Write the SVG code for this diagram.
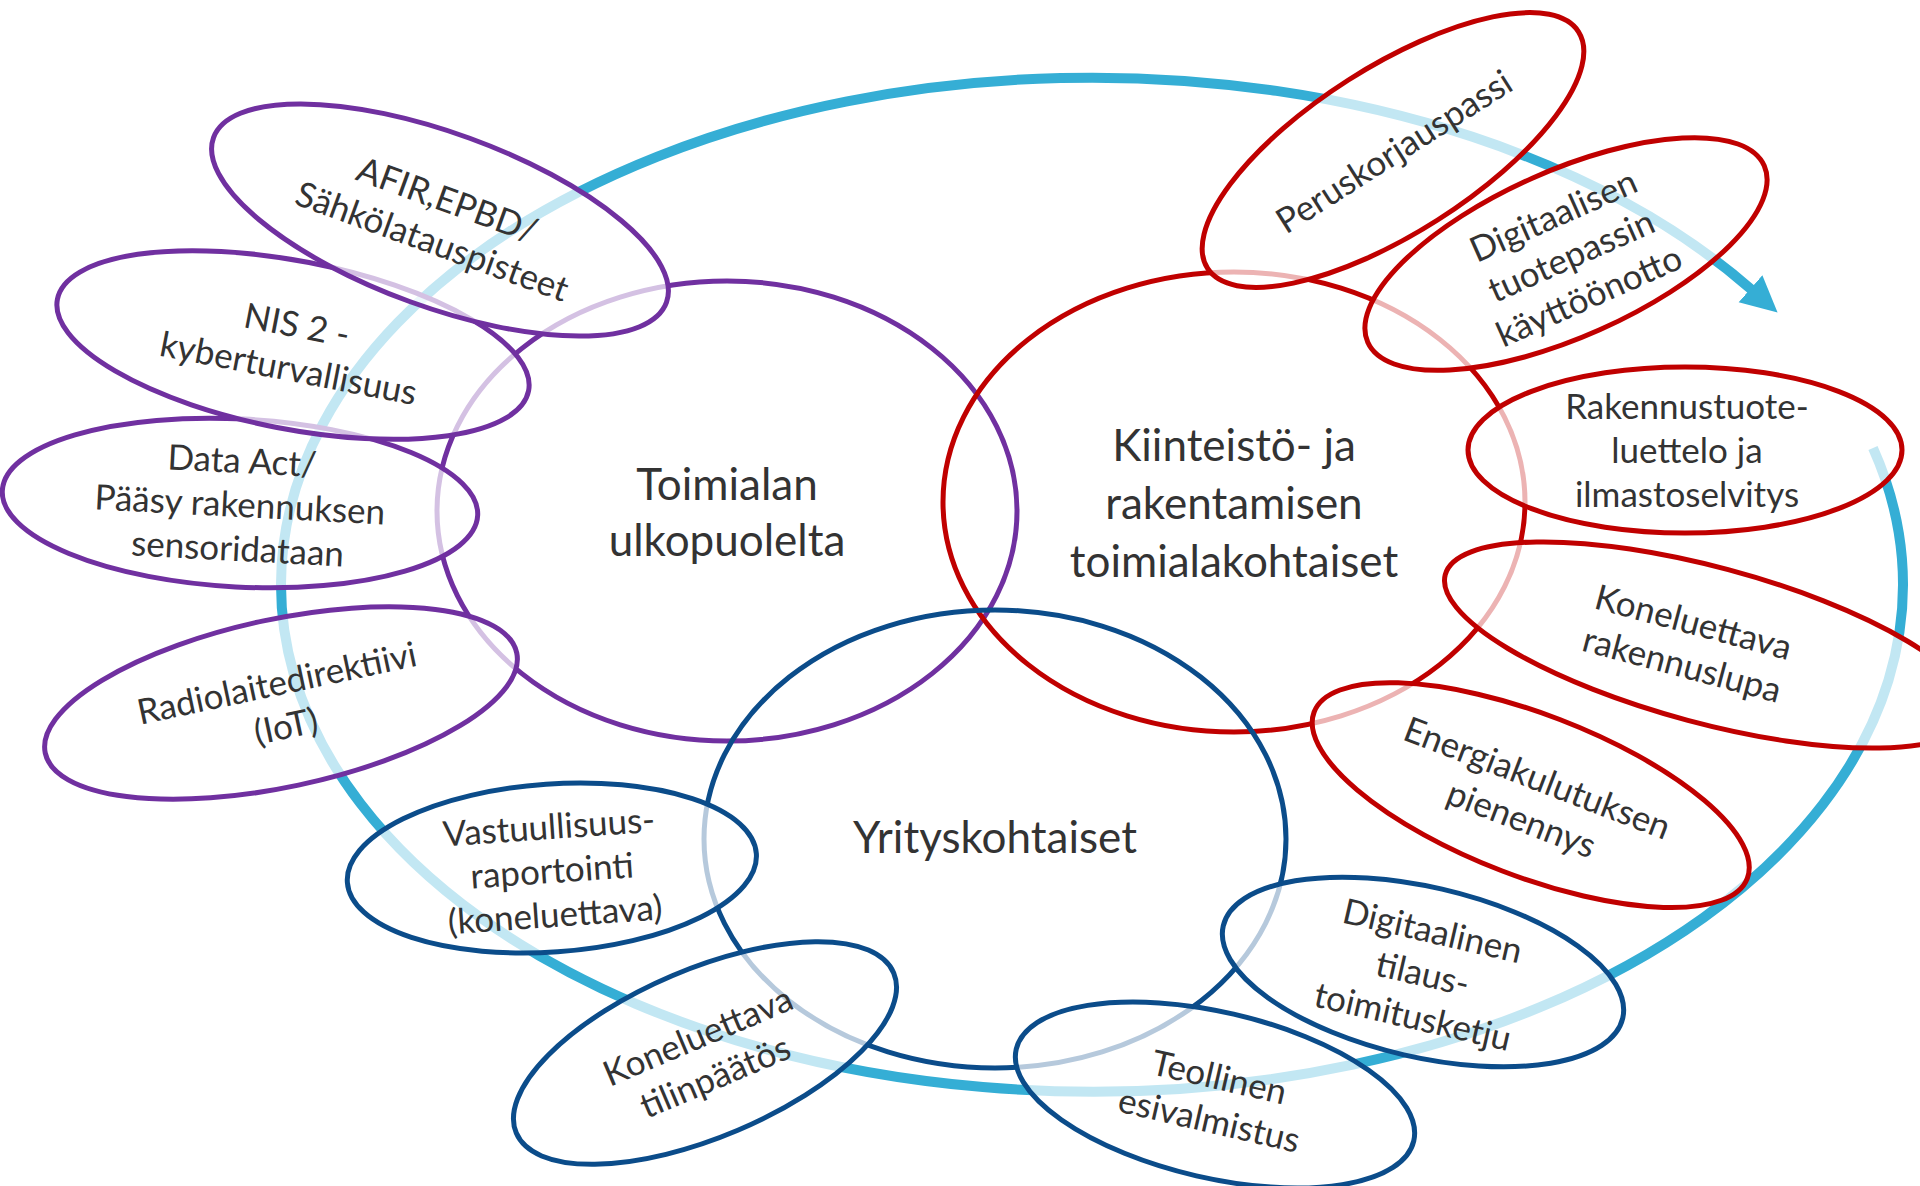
<svg xmlns="http://www.w3.org/2000/svg" width="1920" height="1186" viewBox="0 0 1920 1186">
<style>
.arc{fill:none;stroke:#35aed5;stroke-width:10}
.big{fill:none;stroke-width:5}
.sm{fill:#ffffff;fill-opacity:0.7;stroke-width:5}
.p{stroke:#7030a0}.r{stroke:#c00000}.b{stroke:#0b4c8a}
.t{font-family:Lato,"Open Sans","Liberation Sans",sans-serif;fill:#333333;text-anchor:middle}
.tb{font-size:44px}.ts{font-size:35px}
</style>
<defs>
<marker id="ah" markerUnits="userSpaceOnUse" markerWidth="40" markerHeight="40" refX="2" refY="18" orient="auto">
<path d="M0,0 L36,18 L0,36 z" fill="#35aed5"/>
</marker>
</defs>
<rect width="1920" height="1186" fill="#ffffff"/>
<g id="connectors">
<path class="arc" d="M 1873 448 A 811 507 0 1 1 1752 290" marker-end="url(#ah)"/>
</g>
<g id="toimialan-ulkopuolelta">
<ellipse class="big p" cx="727" cy="511" rx="290" ry="230"/>
<text class="t tb" x="727" y="500">Toimialan</text>
<text class="t tb" x="727" y="556">ulkopuolelta</text>
</g>
<g id="kiinteisto">
<ellipse class="big r" cx="1234" cy="502" rx="291" ry="230"/>
<text class="t tb" x="1234" y="461">Kiinteistö- ja</text>
<text class="t tb" x="1234" y="519">rakentamisen</text>
<text class="t tb" x="1234" y="577">toimialakohtaiset</text>
</g>
<g id="yrityskohtaiset">
<ellipse class="big b" cx="995" cy="839" rx="291" ry="229"/>
<text class="t tb" x="995" y="853">Yrityskohtaiset</text>
</g>
<g id="data-act" transform="translate(240 503) rotate(3)">
<ellipse class="sm p" cx="0" cy="0" rx="238" ry="84"/>
<text class="t ts" x="0" y="-30">Data Act/</text>
<text class="t ts" x="0" y="14">Pääsy rakennuksen</text>
<text class="t ts" x="0" y="58">sensoridataan</text>
</g>
<g id="nis2" transform="translate(293 345) rotate(11)">
<ellipse class="sm p" cx="0" cy="0" rx="240" ry="84"/>
<text class="t ts" x="0" y="-8">NIS 2 -</text>
<text class="t ts" x="0" y="36">kyberturvallisuus</text>
</g>
<g id="afir" transform="translate(440 220) rotate(20)">
<ellipse class="sm p" cx="0" cy="0" rx="241" ry="87"/>
<text class="t ts" x="0" y="-9">AFIR,EPBD/</text>
<text class="t ts" x="0" y="35">Sähkölatauspisteet</text>
</g>
<g id="radiolaite" transform="translate(281 703) rotate(-12)">
<ellipse class="sm p" cx="0" cy="0" rx="241" ry="84"/>
<text class="t ts" x="0" y="-8">Radiolaitedirektiivi</text>
<text class="t ts" x="0" y="36">(IoT)</text>
</g>
<g id="vastuullisuus" transform="translate(552 870) rotate(-4)">
<ellipse class="sm b" cx="0" cy="-2" rx="205" ry="84"/>
<text class="t ts" x="0" y="-31">Vastuullisuus-</text>
<text class="t ts" x="0" y="13">raportointi</text>
<text class="t ts" x="0" y="57">(koneluettava)</text>
</g>
<g id="koneluettava-tilinpaatos" transform="translate(705 1053) rotate(-23)">
<ellipse class="sm b" cx="0" cy="0" rx="205" ry="84"/>
<text class="t ts" x="0" y="-6">Koneluettava</text>
<text class="t ts" x="0" y="38">tilinpäätös</text>
</g>
<g id="peruskorjauspassi" transform="translate(1393 150) rotate(-32.5)">
<ellipse class="sm r" cx="0" cy="0" rx="220" ry="83"/>
<text class="t ts" x="0" y="14">Peruskorjauspassi</text>
</g>
<g id="tuotepassi" transform="translate(1566 254) rotate(-24)">
<ellipse class="sm r" cx="0" cy="0" rx="217" ry="83"/>
<text class="t ts" x="4" y="-28">Digitaalisen</text>
<text class="t ts" x="4" y="16">tuotepassin</text>
<text class="t ts" x="4" y="60">käyttöönotto</text>
</g>
<g id="rakennustuoteluettelo">
<ellipse class="sm r" cx="1685" cy="450" rx="217" ry="83"/>
<text class="t ts" x="1687" y="419">Rakennustuote-</text>
<text class="t ts" x="1687" y="463">luettelo ja</text>
<text class="t ts" x="1687" y="507">ilmastoselvitys</text>
</g>
<g id="rakennuslupa" transform="translate(1708 645) rotate(15)">
<ellipse class="sm r" cx="0" cy="0" rx="272" ry="78"/>
<text class="t ts" x="-20" y="-6">Koneluettava</text>
<text class="t ts" x="-20" y="38">rakennuslupa</text>
</g>
<g id="energiakulutus" transform="translate(1530 797) rotate(21)">
<ellipse class="sm r" cx="0" cy="-2" rx="232" ry="81"/>
<text class="t ts" x="0" y="-8">Energiakulutuksen</text>
<text class="t ts" x="0" y="36">pienennys</text>
</g>
<g id="tilaus-toimitusketju" transform="translate(1423 972) rotate(13)">
<ellipse class="sm b" cx="0" cy="0" rx="205" ry="85"/>
<text class="t ts" x="0" y="-30">Digitaalinen</text>
<text class="t ts" x="0" y="14">tilaus-</text>
<text class="t ts" x="0" y="58">toimitusketju</text>
</g>
<g id="teollinen" transform="translate(1215 1095) rotate(13)">
<ellipse class="sm b" cx="0" cy="0" rx="204" ry="83"/>
<text class="t ts" x="0" y="-6">Teollinen</text>
<text class="t ts" x="0" y="38">esivalmistus</text>
</g>
</svg>
